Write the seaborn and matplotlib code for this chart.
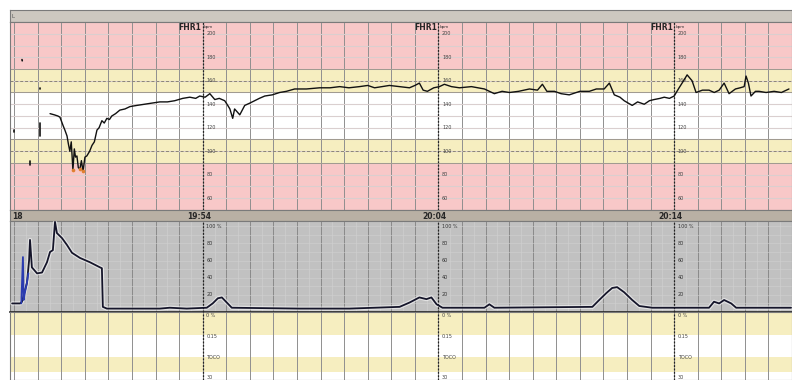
import numpy as np
import pandas as pd
import seaborn as sns
import matplotlib.pyplot as plt

# time in minutes relative to 19:54
fhr_t = [-6.48, -6.30, -6.15, -6.06, -5.93, -5.85, -5.76, -5.70, -5.64, -5.58, -5.51, -5.45, -5.40, -5.34,
         -5.28, -5.21, -5.15, -5.08, -5.00, -4.92, -4.80, -4.70, -4.60, -4.49, -4.40, -4.28, -4.18, -4.07,
         -3.96, -3.86, -3.70, -3.52, -3.30, -3.09, -2.80, -2.46, -2.15, -1.82, -1.50, -1.19, -0.85, -0.55,
         -0.30, -0.13, 0.10, 0.30, 0.51, 0.70, 0.93, 1.06, 1.15, 1.27, 1.35, 1.44, 1.57, 1.78, 2.00, 2.20,
         2.40, 2.63, 2.95, 3.26, 3.55, 3.90, 4.40, 4.96, 5.40, 5.81, 6.20, 6.65, 7.00, 7.29, 7.60, 7.92,
         8.35, 8.77, 9.00, 9.19, 9.35, 9.53, 9.80, 10.04, 10.25, 10.55, 10.89, 11.40, 11.95, 12.37, 12.70,
         13.01, 13.40, 13.86, 14.20, 14.41, 14.60, 14.92, 15.20, 15.55, 16.00, 16.40, 16.70, 17.03, 17.25,
         17.46, 17.70, 17.88, 18.05, 18.22, 18.45, 18.73, 18.95, 19.15, 19.40, 19.58, 19.80, 20.00, 20.21,
         20.40, 20.55, 20.76, 20.93, 21.20, 21.48, 21.70, 21.91, 22.12, 22.33, 22.60, 22.80, 22.97, 23.05,
         23.15, 23.26, 23.45, 23.60, 23.90, 24.24, 24.55, 24.87]
fhr_bpm = [132, 131, 130, 129, 122, 118, 113, 106, 100, 108, 84, 102, 95, 96,
           86, 85, 92, 83, 95, 96, 100, 105, 108, 118, 120, 126, 124, 128,
           127, 130, 132, 135, 136, 138, 139, 140, 141, 142, 142, 143, 145, 146,
           145, 147, 146, 149, 144, 145, 143, 139, 136, 128, 136, 134, 131, 139, 141, 143,
           145, 147, 148, 150, 151, 153, 153, 154, 154, 155, 154, 155, 156, 154, 155, 156,
           155, 154, 156, 158, 152, 151, 154, 155, 157, 155, 154, 155, 153, 149, 151,
           150, 151, 153, 152, 157, 151, 151, 149, 148, 151, 151, 153, 153, 158,
           148, 146, 143, 141, 139, 142, 140, 143, 144, 145, 146, 145, 147, 154,
           160, 165, 160, 150, 152, 152, 150, 152, 158, 149, 153, 154, 155, 164,
           158, 147, 151, 151, 150, 151, 150, 153]

# loose fhr marks before the trace starts
mark_t = [-8.00, -8.00, -7.67, -7.66, -7.33, -7.33, -6.91, -6.91, -6.90, -6.90]
mark_bpm = [118, 116, 178, 177, 92, 88, 154, 153, 124, 113]
mark_seg = [0, 0, 1, 1, 2, 2, 3, 3, 4, 4]
lost_t = [-5.51, -5.21, -5.08]
lost_bpm = [84, 85, 83]

# uterine activity (%)
uc_t = [-8.09, -7.75, -7.67, -7.46, -7.37, -7.33, -7.25, -7.03, -6.82, -6.61, -6.48, -6.36, -6.27,
        -6.19, -5.97, -5.76, -5.55, -5.21, -4.79, -4.36, -4.28, -4.24, -4.07, -1.82, -1.40, -0.68,
        0.17, 0.42, 0.64, 0.81, 1.02, 1.23, 4.11, 6.23, 8.35, 8.77, 9.19, 9.49, 9.70, 9.92, 10.17,
        11.95, 12.16, 12.37, 16.53, 16.82, 17.12, 17.37, 17.58, 17.88, 18.22, 18.52, 19.07, 21.48,
        21.69, 21.91, 22.12, 22.42, 22.63, 24.96]
uc_val = [10, 10, 12, 34, 60, 84, 52, 45, 46, 58, 70, 72, 105,
          92, 86, 78, 69, 63, 58, 52, 51, 6, 4, 4, 5, 4,
          5, 10, 16, 17, 11, 5, 4, 4, 6, 11, 17, 15, 17, 9, 5,
          5, 9, 5, 6, 14, 22, 28, 29, 23, 14, 7, 5, 5,
          12, 10, 14, 10, 5, 5]
uc_blue_t = [-7.70, -7.63, -7.60, -7.55, -7.46, -7.40]
uc_blue_val = [10, 64, 14, 22, 34, 45]

fhr_labels = [200, 180, 160, 140, 120, 100, 80, 60]
uc_labels = ['100 %', '80', '60', '40', '20']
uc_label_pos = [100, 80, 60, 40, 20]
time_marks = [0, 10, 20]
time_names = ['19:54', '20:04', '20:14']
low_labels = ['0 %', '0.15', 'TOCO', '30']
low_label_pos = [0.955, 0.647, 0.324, 0.044]

PINK = '#f8c8c8'
YELLOW = '#f6eec0'
GRAY = '#c1c1c1'
TAN = '#b9b0a4'
XLIM = (-8.18, 25.0)

sns.set_style('white')
plt.rcParams['font.family'] = ['DejaVu Sans']

fig = plt.figure(figsize=(7.92, 3.8), dpi=100)
L, W = 0.0126, 0.9874
ax_head = fig.add_axes([L, 0.9421, W, 0.0316])
ax_fhr = fig.add_axes([L, 0.4474, W, 0.4947])
ax_sep = fig.add_axes([L, 0.4184, W, 0.0290])
ax_uc = fig.add_axes([L, 0.1789, W, 0.2395])
ax_low = fig.add_axes([L, 0.0, W, 0.1789])

for ax in [ax_head, ax_fhr, ax_sep, ax_uc, ax_low]:
    ax.set_xlim(*XLIM)
    ax.set_xticks(np.arange(-8, 26, 1))
    ax.set_xticks(np.arange(-7.5, 25.5, 1), minor=True)
    ax.tick_params(length=0, labelbottom=False, labelleft=False)
    for s in ax.spines.values():
        s.set_color('#7a7a7a')
        s.set_linewidth(0.8)

# header strip
ax_head.set_facecolor('#cdc8c0')
ax_head.set_ylim(0, 1)
ax_head.text(-8.1, 0.45, 'L', fontsize=4, va='center', color='#555')

# FHR panel
ax_fhr.set_ylim(50, 210)
for lo, hi, c in [(170, 210, PINK), (150, 170, YELLOW), (110, 150, 'white'), (90, 110, YELLOW), (50, 90, PINK)]:
    ax_fhr.axhspan(lo, hi, color=c, lw=0, zorder=0)
ax_fhr.set_yticks(np.arange(50, 211, 10))
ax_fhr.grid(which='major', axis='x', color='#8f8f8f', lw=0.7)
ax_fhr.grid(which='major', axis='y', color='#dacfcf', lw=0.8)
ax_fhr.set_axisbelow(True)
for b in [170, 150, 110, 90]:
    ax_fhr.axhline(b, color='#a09a90', lw=0.7, zorder=1)
for b in [160, 100]:
    ax_fhr.axhline(b, color='#8a8478', lw=0.7, ls=(0, (3, 2)), zorder=1)

sns.lineplot(x=fhr_t, y=fhr_bpm, ax=ax_fhr, color='#111111', lw=1.0, sort=False, zorder=4)
marks = pd.DataFrame({'t': mark_t, 'bpm': mark_bpm, 'seg': mark_seg})
sns.lineplot(data=marks, x='t', y='bpm', units='seg', estimator=None, ax=ax_fhr,
             color='#111111', lw=1.2, sort=False, zorder=4)
sns.scatterplot(x=lost_t, y=lost_bpm, ax=ax_fhr, color='#e08030', s=7, lw=0, zorder=5)

# UC panel
ax_uc.set_facecolor(GRAY)
ax_uc.set_ylim(0, 106)
ax_uc.set_yticks(np.arange(0, 101, 10))
ax_uc.grid(which='major', axis='x', color='#8a8a8a', lw=0.7)
ax_uc.grid(which='minor', axis='x', color='#d2d2d2', lw=0.4)
ax_uc.grid(which='major', axis='y', color='#d0d0d0', lw=0.4)
ax_uc.set_axisbelow(True)
sns.lineplot(x=uc_t, y=uc_val, ax=ax_uc, color='white', lw=3.0, alpha=0.55, sort=False, zorder=3)
sns.lineplot(x=uc_t, y=uc_val, ax=ax_uc, color='#15152a', lw=1.3, sort=False, zorder=4)
sns.lineplot(x=uc_blue_t, y=uc_blue_val, ax=ax_uc, color='#2a3bb0', lw=1.3, sort=False, zorder=5)
ax_uc.spines['bottom'].set_color('#222')
ax_uc.spines['bottom'].set_linewidth(1.2)

# lower panel
ax_low.set_ylim(0, 1)
for lo, hi, c in [(0.662, 1.0, YELLOW), (0.338, 0.662, 'white'), (0.118, 0.338, YELLOW), (0.0, 0.118, 'white')]:
    ax_low.axhspan(lo, hi, color=c, lw=0, zorder=0)
ax_low.grid(which='major', axis='x', color='#8f8f8f', lw=0.7)
ax_low.set_axisbelow(True)

# separator with times
ax_sep.set_facecolor(TAN)
ax_sep.set_ylim(0, 1)
ax_sep.text(-8.1, 0.45, '18', fontsize=5.5, fontweight='bold', va='center', ha='left')
for tm, name in zip(time_marks, time_names):
    ax_sep.text(tm - 0.15, 0.45, name, fontsize=5.5, fontweight='bold', va='center', ha='center')

# scale columns
for tm in time_marks:
    for ax in [ax_fhr, ax_uc, ax_low]:
        ax.axvline(tm, color='#222222', lw=0.9, ls=(0, (1.5, 1.2)), zorder=3)
    ax_fhr.text(tm - 0.05, 205, 'FHR1', fontsize=5.5, fontweight='bold', ha='right', va='center')
    ax_fhr.text(tm + 0.05, 205.5, 'bpm', fontsize=3, ha='left', va='center', color='#333')
    for v in fhr_labels:
        ax_fhr.text(tm + 0.15, v, str(v), fontsize=3.5, ha='left', va='center', color='#444')
    for lab, v in zip(uc_labels, uc_label_pos):
        ax_uc.text(tm + 0.15, v, lab, fontsize=3.5, ha='left', va='center', color='#333')
    for lab, v in zip(low_labels, low_label_pos):
        ax_low.text(tm + 0.15, v, lab, fontsize=3.5, ha='left', va='center', color='#444')

fig.savefig('out.png', dpi=100)
